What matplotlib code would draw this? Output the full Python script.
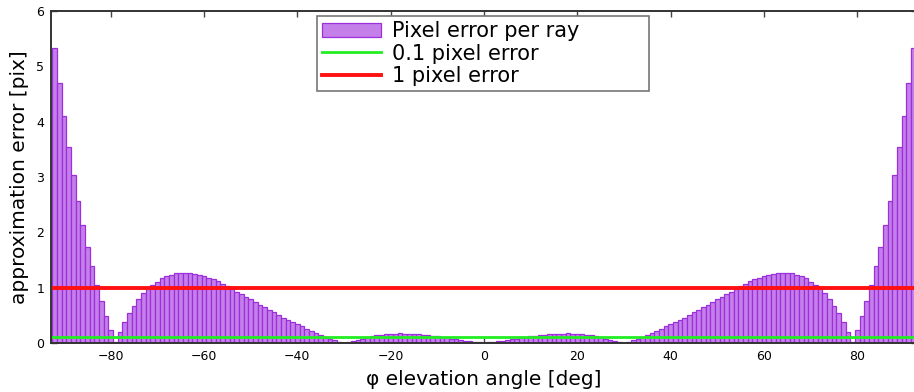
import numpy as np
import matplotlib
matplotlib.use("Agg")
import matplotlib.pyplot as plt

# one bar per degree, values for 0..92 deg, mirrored for the negative half
ugaoPola = np.arange(0, 93)
greskaPola = [
    0.005, 0.01, 0.02, 0.03, 0.04, 0.05, 0.07, 0.08, 0.10, 0.11,
    0.12, 0.13, 0.14, 0.15, 0.16, 0.16, 0.17, 0.17, 0.18, 0.17,
    0.17, 0.16, 0.15, 0.14, 0.12, 0.10, 0.08, 0.06, 0.04, 0.02,
    0.005, 0.02, 0.05, 0.08, 0.11, 0.14, 0.18, 0.22, 0.26, 0.30,
    0.34, 0.38, 0.42, 0.46, 0.51, 0.56, 0.60, 0.65, 0.69, 0.74,
    0.79, 0.83, 0.88, 0.93, 0.98, 1.03, 1.07, 1.12, 1.15, 1.18,
    1.21, 1.23, 1.25, 1.26, 1.27, 1.27, 1.26, 1.23, 1.21, 1.17,
    1.11, 1.05, 0.99, 0.90, 0.79, 0.67, 0.54, 0.38, 0.20, 0.01,
    0.235, 0.49, 0.76, 1.04, 1.39, 1.74, 2.14, 2.57, 3.04, 3.55,
    4.10, 4.70, 5.33,
]

ugao = np.concatenate([-ugaoPola[:0:-1], ugaoPola])
greska = np.concatenate([greskaPola[:0:-1], greskaPola])

pragMali = 0.1
pragVeliki = 1.0

xTicks = [-80, -60, -40, -20, 0, 20, 40, 60, 80]
yTicks = [0, 1, 2, 3, 4, 5, 6]

fig = plt.figure(figsize=(9.14, 3.92), dpi=100)
# right edge of the plot runs a bit past the picture, like the original crop
ax = fig.add_axes([51/914, 1 - 343/392, 866/914, 332/392])

stubici = ax.bar(ugao, greska, width=1.0, color="#c57fe9", edgecolor="#9c2fdc",
                 linewidth=0.9, label="Pixel error per ray", zorder=2)
zelena = ax.axhline(pragMali, color="#22ee22", linewidth=2.0,
                    label="0.1 pixel error", zorder=3)
crvena = ax.axhline(pragVeliki, color="#ff1111", linewidth=2.8,
                    label="1 pixel error", zorder=3)

ax.set_xlim(-92.8, 92.8)
ax.set_ylim(0, 6)
ax.set_xticks(xTicks)
ax.set_yticks(yTicks)
ax.tick_params(direction="in", length=4, width=1, color="#444444",
               top=True, right=True, labelsize=9, pad=5)
for s in ax.spines.values():
    s.set_color("#333333")
    s.set_linewidth(1.4)
    s.set_zorder(4)

ax.set_xlabel("φ elevation angle [deg]", fontsize=14.5, labelpad=5)
ax.set_ylabel("approximation error [pix]", fontsize=14.5, labelpad=5)

# legend box stretched to the same width as in the original
leg = ax.legend(handles=[stubici, zelena, crvena],
                loc="upper left", mode="expand",
                bbox_to_anchor=(317/914, 1 - 93/392, 332/914, 77/392),
                bbox_transform=fig.transFigure, fontsize=15, fancybox=False,
                framealpha=1, edgecolor="#777777", borderpad=0.25,
                labelspacing=0.12, handlelength=2.8, handletextpad=0.55,
                borderaxespad=0)
leg.get_frame().set_linewidth(1.2)

fig.savefig("out.png", dpi=100)
